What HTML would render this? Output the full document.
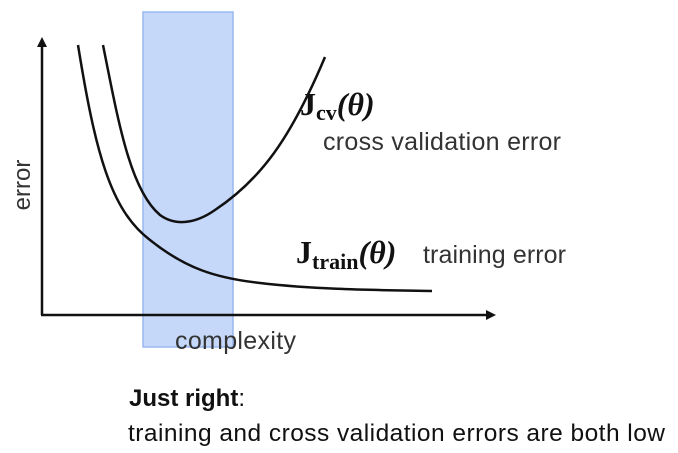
<!DOCTYPE html>
<html><head><style>
body{margin:0;width:678px;height:453px;background:#fff;overflow:hidden}
svg{display:block}
</style></head><body>
<svg width="678" height="453" viewBox="0 0 678 453" xmlns="http://www.w3.org/2000/svg">
<rect x="143" y="12" width="90" height="335" fill="#c6d8fa" stroke="#98b8f0" stroke-width="1.5"/>
<line x1="42" y1="315" x2="42" y2="44" stroke="#111" stroke-width="2.5"/>
<polygon points="42,37 37,47 47,47" fill="#111"/>
<line x1="41" y1="315" x2="488" y2="315" stroke="#111" stroke-width="2.5"/>
<polygon points="496,315 486,310 486,320" fill="#111"/>
<path d="M78,45 C95,150 110,210 150,240 C185,268 215,278 260,283 C320,290 380,290 432,291" fill="none" stroke="#111" stroke-width="2.5"/>
<path d="M103,45 C118,120 130,190 160,215 C175,226 195,224 215,210 C260,180 290,140 325,57" fill="none" stroke="#111" stroke-width="2.5"/>
<text x="300" y="115" font-family="Liberation Serif, serif" font-weight="bold" font-size="32" fill="#111">J<tspan font-size="22" dy="5">cv</tspan><tspan dy="-5" font-style="italic">(θ)</tspan></text>
<text x="323" y="150" font-family="Liberation Sans, sans-serif" font-size="25" fill="#333" textLength="238">cross validation error</text>
<text x="296" y="263" font-family="Liberation Serif, serif" font-weight="bold" font-size="32" fill="#111">J<tspan font-size="22" dy="6">train</tspan><tspan dy="-6" font-style="italic">(θ)</tspan></text>
<text x="423" y="263" font-family="Liberation Sans, sans-serif" font-size="25" fill="#333" textLength="143">training error</text>
<text transform="translate(30,185) rotate(-90)" text-anchor="middle" font-family="Liberation Sans, sans-serif" font-size="24" fill="#333">error</text>
<text x="175" y="349" font-family="Liberation Sans, sans-serif" font-size="25" fill="#333" textLength="121">complexity</text>
<text x="129" y="406" font-family="Liberation Sans, sans-serif" font-size="24" fill="#111"><tspan font-weight="bold">Just right</tspan>:</text>
<text x="128" y="441" font-family="Liberation Sans, sans-serif" font-size="24.5" fill="#111" textLength="537">training and cross validation errors are both low</text>
</svg>
</body></html>
